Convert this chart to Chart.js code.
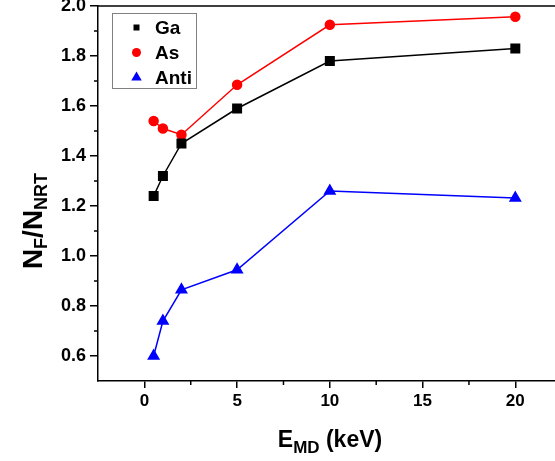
<!DOCTYPE html>
<html lang="en">
<head>
    <meta charset="UTF-8">
    <title>NF/NNRT vs EMD</title>
    <script src="https://cdn.jsdelivr.net/npm/chart.js"></script>
    <style>
        html, body {
            margin: 0;
            padding: 0;
            overflow: hidden;
            background: #fff;
        }
        #chart {
            display: block;
        }
    </style>
</head>
<body>
    <canvas id="chart" width="555" height="461"></canvas>

    <script>
        // energies (keV)
        const energies = [0.5, 1, 2, 5, 10, 20];
        const gaValues = [1.24, 1.32, 1.45, 1.59, 1.78, 1.83];
        const asValues = [1.54, 1.51, 1.485, 1.685, 1.925, 1.957];
        const antiValues = [0.60, 0.74, 0.865, 0.945, 1.26, 1.232];

        const xTickValues = [0, 5, 10, 15, 20];
        const xMinorValues = [2.5, 7.5, 12.5, 17.5];
        const yTickValues = [0.6, 0.8, 1.0, 1.2, 1.4, 1.6, 1.8, 2.0];
        const yMinorValues = [0.7, 0.9, 1.1, 1.3, 1.5, 1.7, 1.9];

        const FONT = "'Liberation Sans', Arial, sans-serif";

        function points(ys) {
            return energies.map((x, i) => ({ x: x, y: ys[i] }));
        }

        function drawMarker(ctx, style, x, y, size, color) {
            ctx.save();
            ctx.fillStyle = color;
            ctx.beginPath();
            if (style === 'rect') {
                ctx.rect(x - size / 2, y - size / 2, size, size);
            } else if (style === 'circle') {
                ctx.arc(x, y, size / 2, 0, Math.PI * 2);
            } else {
                const r = size / 1.732;
                ctx.moveTo(x, y - r);
                ctx.lineTo(x + size / 2, y + r / 2);
                ctx.lineTo(x - size / 2, y + r / 2);
                ctx.closePath();
            }
            ctx.fill();
            ctx.restore();
        }

        // top frame line + minor ticks
        const framePlugin = {
            id: 'frame',
            afterDraw(chart) {
                const ctx = chart.ctx;
                const area = chart.chartArea;
                const xs = chart.scales.x;
                const ys = chart.scales.y;
                ctx.save();
                ctx.strokeStyle = '#000';
                ctx.lineWidth = 1.5;
                ctx.beginPath();
                ctx.moveTo(area.left, area.top);
                ctx.lineTo(chart.width, area.top);
                xMinorValues.forEach(v => {
                    const px = xs.getPixelForValue(v);
                    ctx.moveTo(px, area.bottom);
                    ctx.lineTo(px, area.bottom + 4);
                });
                yMinorValues.forEach(v => {
                    const py = ys.getPixelForValue(v);
                    ctx.moveTo(area.left, py);
                    ctx.lineTo(area.left - 4, py);
                });
                ctx.stroke();
                ctx.restore();
            }
        };

        // legend box inside plot
        const legendPlugin = {
            id: 'boxLegend',
            afterDraw(chart) {
                const ctx = chart.ctx;
                const sizes = [6, 9, 10.5];
                ctx.save();
                ctx.strokeStyle = '#808080';
                ctx.lineWidth = 1;
                ctx.strokeRect(112.5, 13.5, 84, 75);
                ctx.font = 'bold 19px ' + FONT;
                ctx.textBaseline = 'middle';
                chart.data.datasets.forEach((ds, i) => {
                    const y = 27.5 + i * 25;
                    drawMarker(ctx, ds.pointStyle, 136.5, y, sizes[i], ds.borderColor);
                    ctx.fillStyle = '#000';
                    ctx.fillText(ds.label, 155, y + 1);
                });
                ctx.restore();
            }
        };

        // axis titles with subscripts
        function drawParts(ctx, parts, startX, baseY) {
            let x = startX;
            parts.forEach(p => {
                ctx.font = 'bold ' + p.size + 'px ' + FONT;
                ctx.fillText(p.text, x, baseY + p.dy);
                x += ctx.measureText(p.text).width;
            });
        }
        function partsWidth(ctx, parts) {
            let w = 0;
            parts.forEach(p => {
                ctx.font = 'bold ' + p.size + 'px ' + FONT;
                w += ctx.measureText(p.text).width;
            });
            return w;
        }
        const titlePlugin = {
            id: 'axisTitles',
            afterDraw(chart) {
                const ctx = chart.ctx;
                ctx.save();
                ctx.fillStyle = '#000';
                ctx.textBaseline = 'alphabetic';

                const xParts = [
                    { text: 'E', size: 23, dy: 0 },
                    { text: 'MD', size: 17, dy: 6 },
                    { text: ' (keV)', size: 23, dy: 0 }
                ];
                drawParts(ctx, xParts, 330 - partsWidth(ctx, xParts) / 2, 447);

                const yParts = [
                    { text: 'N', size: 28, dy: 0 },
                    { text: 'F', size: 18, dy: 5 },
                    { text: '/', size: 28, dy: 0 },
                    { text: 'N', size: 28, dy: 0 },
                    { text: 'NRT', size: 18, dy: 5 }
                ];
                ctx.translate(42, 221);
                ctx.rotate(-Math.PI / 2);
                drawParts(ctx, yParts, -partsWidth(ctx, yParts) / 2, 0);
                ctx.restore();
            }
        };

        const ctx = document.getElementById('chart').getContext('2d');
        new Chart(ctx, {
            type: 'line',
            data: {
                datasets: [{
                    label: 'Ga',
                    data: points(gaValues),
                    borderColor: '#000000',
                    backgroundColor: '#000000',
                    pointStyle: 'rect',
                    pointRadius: 6,
                    borderWidth: 1.5,
                    tension: 0
                }, {
                    label: 'As',
                    data: points(asValues),
                    borderColor: '#ff0000',
                    backgroundColor: '#ff0000',
                    pointStyle: 'circle',
                    pointRadius: 4.5,
                    borderWidth: 1.5,
                    tension: 0
                }, {
                    label: 'Anti',
                    data: points(antiValues),
                    borderColor: '#0000ff',
                    backgroundColor: '#0000ff',
                    pointStyle: 'triangle',
                    pointRadius: 6,
                    borderWidth: 1.5,
                    tension: 0
                }]
            },
            options: {
                responsive: false,
                animation: false,
                layout: {
                    autoPadding: false,
                    padding: { top: 6, left: 0, right: 0, bottom: 0 }
                },
                plugins: {
                    legend: { display: false },
                    tooltip: { enabled: false }
                },
                elements: {
                    point: { borderWidth: 0 }
                },
                scales: {
                    x: {
                        type: 'linear',
                        min: -2.5,
                        max: 22.14,
                        afterBuildTicks: s => { s.ticks = xTickValues.map(v => ({ value: v })); },
                        afterFit: s => {
                            s.height = 80;
                            s.paddingLeft = 0;
                            s.paddingRight = 0;
                        },
                        grid: {
                            drawOnChartArea: false,
                            drawTicks: true,
                            tickLength: 7,
                            color: '#000',
                            lineWidth: 1.5
                        },
                        border: { display: true, color: '#000', width: 1.5 },
                        ticks: {
                            color: '#000',
                            padding: 3,
                            maxRotation: 0,
                            font: { family: FONT, size: 17, weight: 'bold' }
                        }
                    },
                    y: {
                        type: 'linear',
                        min: 0.5,
                        max: 2.0,
                        afterBuildTicks: s => { s.ticks = yTickValues.map(v => ({ value: v })); },
                        afterFit: s => {
                            s.width = 98;
                            s.paddingTop = 0;
                            s.paddingBottom = 0;
                        },
                        grid: {
                            drawOnChartArea: false,
                            drawTicks: true,
                            tickLength: 8,
                            color: '#000',
                            lineWidth: 1.5
                        },
                        border: { display: true, color: '#000', width: 1.5 },
                        ticks: {
                            color: '#000',
                            padding: 4,
                            font: { family: FONT, size: 18, weight: 'bold' },
                            callback: v => Number(v).toFixed(1)
                        }
                    }
                }
            },
            plugins: [framePlugin, legendPlugin, titlePlugin]
        });
    </script>
</body>
</html>
